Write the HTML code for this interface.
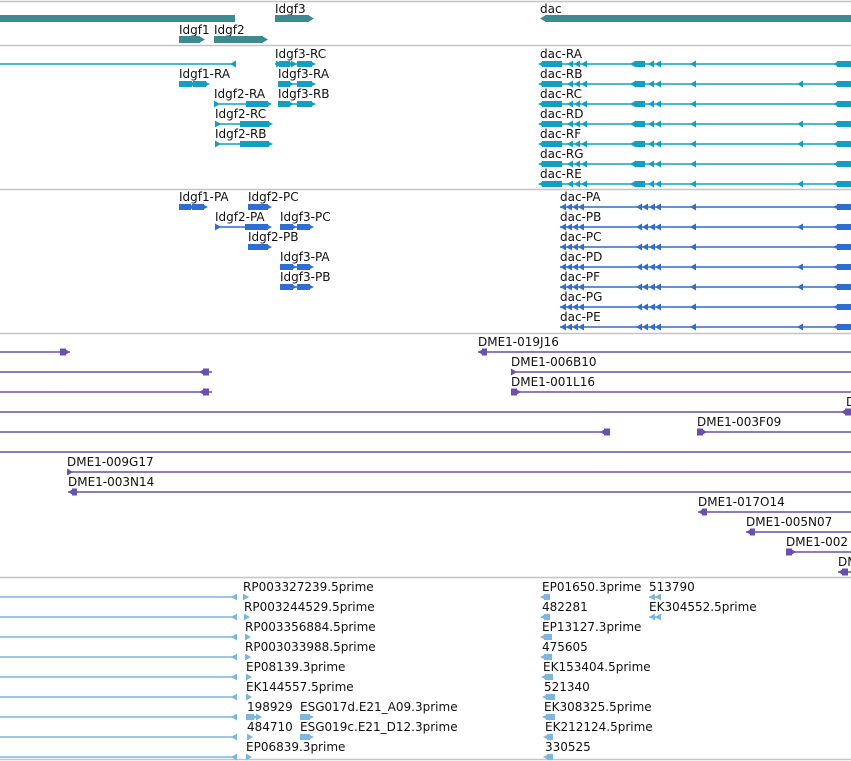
<!DOCTYPE html>
<html><head><meta charset="utf-8">
<style>
html,body{margin:0;padding:0;background:#fff;}
svg{display:block;}
text{font-family:"DejaVu Sans","Liberation Sans",sans-serif;font-size:12px;fill:#111;}
</style></head>
<body>
<svg id="v" width="851" height="761" viewBox="0 0 851 761" xmlns="http://www.w3.org/2000/svg"></svg>
<script>
// ---- data ----
const separators = [1, 45, 189, 333, 577, 759];
// genes: [label, labelX, labelY(baseline), barX1, barX2, barY, dir]
const genes = [
  ["", 0, 0, 0, 235, 18, 0],
  ["Idgf3", 275, 13, 275, 314, 18, 1],
  ["dac", 540, 13, 540, 851, 18, -1],
  ["Idgf1", 179, 34, 179, 205, 39, 1],
  ["Idgf2", 214, 34, 214, 268, 39, 1]
];
// features: [label, x, lineY, lineX1, lineX2, blocks "a-b,..." , arrows "x,..." (prefix < or > overrides dir), dir]
const transcripts = [
  ["", 0, 64, 0, 235, "", "<230", 1],
  ["Idgf3-RC", 275, 64, 275, 312, "279-290,297-312", "276,291", 1],
  ["Idgf1-RA", 179, 84, 179, 206, "179-192,193-206", "", 1],
  ["Idgf3-RA", 278, 84, 278, 312, "278-290,297-312", "", 1],
  ["Idgf2-RA", 214, 104, 214, 268, "246-256,256-268", "214", 1],
  ["Idgf3-RB", 278, 104, 278, 312, "278-290,297-312", "", 1],
  ["Idgf2-RC", 215, 124, 215, 269, "240-256,256-269", "215", 1],
  ["Idgf2-RB", 215, 144, 215, 269, "240-256,256-269", "215", 1]
];
const dacT = ["dac-RA","dac-RB","dac-RC","dac-RD","dac-RF","dac-RG","dac-RE"];
const dacTExtra = [0,1,0,1,1,0,1];
const proteins = [
  ["Idgf1-PA", 179, 207, 179, 204, "179-191,192-204", "", 1],
  ["Idgf2-PC", 248, 207, 248, 268, "248-258,258-268", "", 1],
  ["Idgf2-PA", 215, 227, 215, 268, "245-256,256-268", "215", 1],
  ["Idgf3-PC", 280, 227, 280, 310, "280-293,297-310", "", 1],
  ["Idgf2-PB", 248, 247, 248, 268, "248-258,258-268", "", 1],
  ["Idgf3-PA", 280, 267, 280, 310, "280-293,297-310", "", 1],
  ["Idgf3-PB", 280, 287, 280, 310, "280-293,297-310", "", 1]
];
const dacP = ["dac-PA","dac-PB","dac-PC","dac-PD","dac-PF","dac-PG","dac-PE"];
const dacPExtra = [0,1,0,1,1,0,1];
const clones = [
  ["", 0, 352, 0, 70, "60-66", "", 1],
  ["DME1-019J16", 478, 352, 478, 851, "482-487", "", -1],
  ["", 0, 372, 0, 212, "203-209", "", -1],
  ["DME1-006B10", 511, 372, 511, 851, "", "511", 1],
  ["", 0, 392, 0, 212, "203-209", "", -1],
  ["DME1-001L16", 511, 392, 511, 851, "511-517", "", 1],
  ["D", 846, 412, 0, 851, "845-851", "", -1],
  ["", 0, 432, 0, 610, "604-610", "", -1],
  ["DME1-003F09", 697, 432, 697, 851, "697-703", "", 1],
  ["", 0, 452, 0, 851, "", "", 1],
  ["DME1-009G17", 67, 472, 67, 851, "", "67", 1],
  ["DME1-003N14", 68, 492, 68, 851, "72-77", "", -1],
  ["DME1-017O14", 698, 512, 698, 851, "702-707", "", -1],
  ["DME1-005N07", 746, 532, 746, 851, "750-755", "", -1],
  ["DME1-002", 786, 552, 786, 851, "786-792", "", 1],
  ["DM", 838, 572, 838, 851, "842-848", "", -1]
];
const ests = [
  ["RP003327239.5prime", 243, 597, 0, 236, "", "<231,>243", 1],
  ["RP003244529.5prime", 244, 617, 0, 236, "", "<231,>244", 1],
  ["RP003356884.5prime", 245, 637, 0, 236, "", "<231,>245", 1],
  ["RP003033988.5prime", 245, 657, 0, 236, "", "<231,>245", 1],
  ["EP08139.3prime", 246, 677, 0, 236, "", "<231,>246", 1],
  ["EK144557.5prime", 246, 697, 0, 236, "", "<231,>246", 1],
  ["198929", 247, 717, 0, 236, "246-254", "<231,>256", 1],
  ["ESG017d.E21_A09.3prime", 300, 717, 300, 310, "300-310", "", 1],
  ["484710", 247, 737, 0, 236, "", "<231,>247", 1],
  ["ESG019c.E21_D12.3prime", 300, 737, 300, 310, "300-310", "", 1],
  ["EP06839.3prime", 246, 757, 0, 236, "", "<231,>246", 1],
  ["EP01650.3prime", 542, 597, 542, 550, "544-550", "542", -1],
  ["513790", 649, 597, 649, 660, "", "649,655", -1],
  ["482281", 542, 617, 542, 550, "544-550", "542", -1],
  ["EK304552.5prime", 649, 617, 649, 660, "", "649,655", -1],
  ["EP13127.3prime", 542, 637, 542, 552, "544-552", "542", -1],
  ["475605", 542, 657, 542, 552, "544-552", "542", -1],
  ["EK153404.5prime", 543, 677, 543, 553, "545-553", "543", -1],
  ["521340", 544, 697, 544, 555, "546-555", "544", -1],
  ["EK308325.5prime", 544, 717, 544, 555, "546-555", "544", -1],
  ["EK212124.5prime", 545, 737, 545, 553, "547-553", "545", -1],
  ["330525", 545, 757, 545, 553, "547-553", "545", -1]
];

// ---- drawing ----
const NS = "http://www.w3.org/2000/svg";
const svg = document.getElementById("v");
function mk(tag, attrs, parent){
  const e = document.createElementNS(NS, tag);
  for (const k in attrs) e.setAttribute(k, attrs[k]);
  (parent||svg).appendChild(e);
  return e;
}
separators.forEach(y=>{
  const l = mk("line",{x1:0,x2:851,y1:y+0.5,y2:y+0.5,stroke:"#c4c4c4","stroke-width":1.5});
  
  
});
function tri(g, x, y, dir, h, color){
  const w = 6;
  const pts = dir>0 ? `${x},${y-h} ${x+w},${y} ${x},${y+h}` : `${x+w},${y-h} ${x},${y} ${x+w},${y+h}`;
  mk("polygon",{points:pts,fill:color},g);
}
genes.forEach(d=>{
  const g = mk("g",{});
  
  
  const c = "#3d8b8e";
  if (d[0]) { const t = mk("text",{x:d[1],y:d[2]},g); t.textContent = d[0]; }
  let x1 = d[3], x2 = d[4];
  if (d[6]>0){ mk("rect",{x:x1,y:d[5]-3,width:x2-x1-5,height:7,fill:c},g); tri(g,x2-6,d[5]+0.5,1,3.5,c); }
  else if (d[6]<0){ mk("rect",{x:x1+5,y:d[5]-3,width:x2-x1-5,height:7,fill:c},g); tri(g,x1,d[5]+0.5,-1,3.5,c); }
  else mk("rect",{x:x1,y:d[5]-3,width:x2-x1,height:7,fill:c},g);
});
function feature(d, color, name, bh){
  const g = mk("g",{});
  
  
  if (d[0]) { const t = mk("text",{x:d[1],y:d[2]-6},g); t.textContent = d[0]; }
  const y = d[2];
  if (d[4]-d[3] > 0) mk("line",{x1:d[3],x2:d[4],y1:y,y2:y,stroke:color,"stroke-width":1.5},g);
  if (d[5]) d[5].split(",").forEach(b=>{
    const [a,e] = b.split("-").map(Number);
    mk("rect",{x:a,y:y-bh,width:e-a,height:bh*2,fill:color},g);
    tri(g, d[7]>0 ? e-2 : a-4, y, d[7], bh, color);
  });
  if (d[6]) d[6].split(",").forEach(s=>{
    let dir = d[7];
    if (s[0]==="<"){ dir=-1; s=s.slice(1); }
    else if (s[0]===">"){ dir=1; s=s.slice(1); }
    tri(g, Number(s), y, dir, 3.5, color);
  });
}
transcripts.forEach(d=>feature(d,"#11a0c4","transcript",3));
const TC = "#11a0c4";
function dacRow(label, x, y, extra, color, name, starts){
  const blocks = [];
  const arrows = [];
  starts.blocks.forEach(b=>blocks.push(b));
  starts.arrows.forEach(a=>arrows.push(a));
  if (extra) arrows.push(797);
  feature([label, x, y, x, 851, blocks.join(","), arrows.join(","), -1], color, name, 3);
}
dacT.forEach((n,i)=>dacRow(n, 540, 64+20*i, dacTExtra[i], TC, "transcript",
  {blocks:["542-562","636-645","837-851"], arrows:[567,574,581,630,648,655,690]}));
const PC = "#2f6dd0";
proteins.forEach(d=>feature(d,PC,"protein",3));
dacP.forEach((n,i)=>dacRow(n, 560, 207+20*i, dacPExtra[i], PC, "protein",
  {blocks:["837-851"], arrows:[560,566,572,578,636,642,649,655,690]}));
clones.forEach(d=>feature(d,"#6a4fae","clone",3.5));
ests.forEach(d=>feature(d,"#7db6de","est",3));
</script>
</body></html>
